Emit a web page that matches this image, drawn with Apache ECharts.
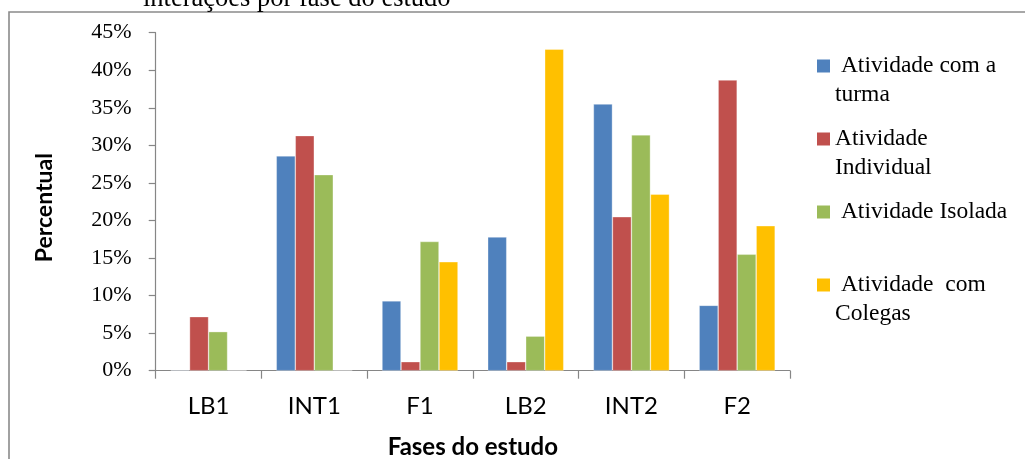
<!DOCTYPE html>
<html>
<head>
<meta charset="utf-8">
<title>Interações por fase do estudo</title>
<script src="https://cdn.jsdelivr.net/npm/echarts/dist/echarts.min.js"></script>
<style>
  html, body { margin: 0; padding: 0; background: #ffffff; }
  #chart { width: 1025px; height: 459px; }
</style>
</head>
<body>
<div id="chart"></div>
<script>
// Phases of the study (x categories)
const phases = ['LB1', 'INT1', 'F1', 'LB2', 'INT2', 'F2'];

// Share of interactions per phase, in percent
const turma      = [0.1, 28.6, 9.3, 17.8, 35.5, 8.7];
const individual = [7.2, 31.3, 1.2, 1.2, 20.5, 38.7];
const isolada    = [5.2, 26.1, 17.2, 4.6, 31.4, 15.5];
const colegas    = [0, 0, 14.5, 42.8, 23.5, 19.3];

const seriesNames = ['Atividade com a turma', 'Atividade Individual', 'Atividade Isolada', 'Atividade com Colegas'];
// Legend text as it is wrapped beside the plot
const legendLines = [' Atividade com a\nturma', 'Atividade\nIndividual', ' Atividade Isolada', ' Atividade  com\nColegas'];
const colors = ['#4F81BD', '#C0504D', '#9BBB59', '#FFC000'];

const yTicks = { min: 0, max: 45, step: 5 };

const serif = '"Liberation Serif", "Times New Roman", serif';
const sans = 'Lato, "Liberation Sans", Arial, sans-serif';

const chart = echarts.init(document.getElementById('chart'), null, { renderer: 'canvas' });

const values = [turma, individual, isolada, colegas];

const series = values.map((data, i) => ({
  name: seriesNames[i],
  type: 'bar',
  data: data,
  barWidth: 19,
  barGap: '0%',
  itemStyle: {
    color: colors[i],
    borderColor: 'rgba(255,255,255,0.55)',
    borderWidth: 0.6
  }
}));

// Legend: a square swatch next to each (wrapped) series label
const legendCenters = [66, 139, 212, 285];
const legendGraphics = [];
legendLines.forEach((txt, i) => {
  legendGraphics.push({
    type: 'rect',
    shape: { x: 817, y: legendCenters[i] - 6.5, width: 13, height: 13 },
    style: { fill: colors[i] },
    silent: true
  });
  legendGraphics.push({
    type: 'text',
    x: 835,
    y: legendCenters[i] - 14.5,
    style: {
      text: txt,
      fill: '#000',
      fontSize: 23.5,
      fontFamily: serif,
      lineHeight: 29,
      verticalAlign: 'top',
      align: 'left'
    },
    silent: true
  });
});

const option = {
  animation: false,
  backgroundColor: '#ffffff',
  grid: {
    left: 155.7, right: 235, top: 32.7, bottom: 88.3,
    containLabel: false,
    outerBoundsMode: 'none'
  },
  xAxis: {
    type: 'category',
    data: phases,
    boundaryGap: true,
    name: 'Fases do estudo',
    nameLocation: 'middle',
    nameGap: 65,
    nameTextStyle: { fontFamily: sans, fontSize: 24, fontWeight: 'bold', color: '#000' },
    axisLine: { show: true, lineStyle: { color: '#868686', width: 1.2 } },
    axisTick: { show: true, length: 8, lineStyle: { color: '#868686', width: 1.2 } },
    axisLabel: { fontFamily: sans, fontSize: 24, color: '#000', margin: 24 },
    splitLine: { show: false }
  },
  yAxis: {
    type: 'value',
    min: yTicks.min,
    max: yTicks.max,
    interval: yTicks.step,
    name: 'Percentual',
    nameLocation: 'middle',
    nameRotate: 90,
    nameGap: 100,
    nameTextStyle: { fontFamily: sans, fontSize: 23, fontWeight: 'bold', color: '#000', padding: [0, 12, 0, 0] },
    axisLine: { show: true, lineStyle: { color: '#868686', width: 1.2 } },
    axisTick: { show: true, length: 7, lineStyle: { color: '#868686', width: 1.2 } },
    axisLabel: { formatter: '{value}%', fontFamily: serif, fontSize: 22, color: '#000', margin: 24 },
    splitLine: { show: false }
  },
  graphic: [
    // outer chart frame
    {
      type: 'rect',
      shape: { x: 9, y: 12, width: 1030, height: 460 },
      style: { fill: null, stroke: '#8a8a8a', lineWidth: 1.6 },
      silent: true
    },
    // caption line above the frame, mostly clipped by the page top
    {
      type: 'text',
      x: 143,
      y: -1,
      style: {
        text: 'interações por fase do estudo',
        fill: '#000',
        fontSize: 26.5,
        fontFamily: serif,
        verticalAlign: 'middle',
        align: 'left'
      },
      silent: true
    }
  ].concat(legendGraphics),
  series: series
};

chart.setOption(option);
</script>
</body>
</html>
